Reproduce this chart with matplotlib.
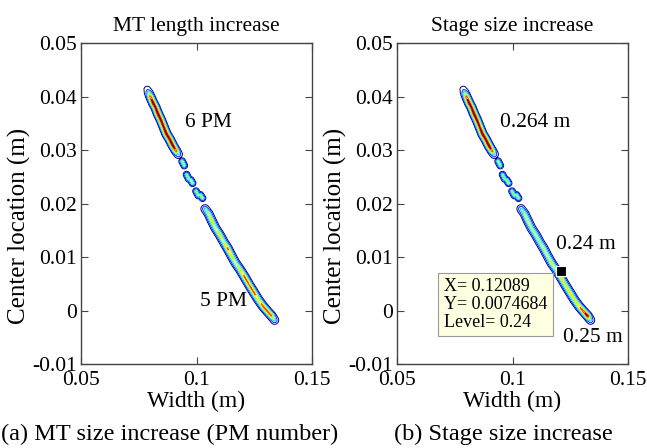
import matplotlib.pyplot as plt
import numpy as np

plt.rcParams['font.family'] = ['Liberation Serif', 'DejaVu Serif']

# centre line of the detected region, split into pieces (x, y, peak value)
top_x = [0.0787, 0.0800, 0.0812, 0.0822, 0.0833, 0.0846, 0.0858, 0.0870, 0.0884, 0.0898, 0.0912, 0.0921]
top_y = [0.0413, 0.0400, 0.0388, 0.0380, 0.0368, 0.0356, 0.0343, 0.0330, 0.0320, 0.0308, 0.0298, 0.0292]
top_pk_a = [0.215, 0.262, 0.272, 0.268, 0.272, 0.270, 0.268, 0.272, 0.270, 0.272, 0.262, 0.230]
top_pk_b = [0.215, 0.262, 0.272, 0.268, 0.272, 0.270, 0.266, 0.272, 0.270, 0.272, 0.262, 0.230]

# short broken pieces between the two long parts (start x, start y, end x, end y)
dash_x0 = [0.0938, 0.0957, 0.0975, 0.0998, 0.1017]
dash_y0 = [0.0279, 0.0254, 0.0244, 0.0223, 0.0216]
dash_x1 = [0.0947, 0.0966, 0.0983, 0.1008, 0.1026]
dash_y1 = [0.0271, 0.0246, 0.0238, 0.0215, 0.0210]
dash_pk = [0.242, 0.240, 0.244, 0.240, 0.242]

low_x = [0.1037, 0.1052, 0.1066, 0.1082, 0.1100, 0.1118, 0.1135, 0.1152, 0.1170, 0.1188, 0.1208, 0.1228, 0.1248, 0.1268, 0.1288, 0.1308, 0.1325, 0.1338]
low_y = [0.0190, 0.0181, 0.0168, 0.0154, 0.0142, 0.0128, 0.0116, 0.0102, 0.0088, 0.0077, 0.0063, 0.0048, 0.0034, 0.0020, 0.0008, -0.0002, -0.0010, -0.0018]
low_pk_a = [0.230, 0.244, 0.248, 0.244, 0.248, 0.244, 0.258, 0.248, 0.244, 0.248, 0.258, 0.256, 0.258, 0.252, 0.258, 0.260, 0.258, 0.230]
low_pk_b = [0.230, 0.242, 0.246, 0.240, 0.244, 0.240, 0.246, 0.242, 0.248, 0.242, 0.250, 0.246, 0.250, 0.246, 0.254, 0.264, 0.270, 0.230]

levels = [0.205, 0.215, 0.225, 0.235, 0.245, 0.255, 0.265]

tip_x, tip_y, tip_level = 0.12089, 0.0074684, 0.24

# px per data unit, used so the ridge width is the same in both directions
SX, SY = 2310.0, 5350.0
BASE = 0.2
R = 5.0


def ridge_field(pieces, gx, gy, r=R):
    # cone-shaped ridge along each polyline, peak value falling to BASE at distance r (px)
    u = gx * SX
    v = gy * SY
    f = np.full(gx.shape, BASE)
    for xs, ys, pk in pieces:
        xs = np.asarray(xs) * SX
        ys = np.asarray(ys) * SY
        pk = np.asarray(pk)
        for i in range(len(xs) - 1):
            ax_, ay_ = xs[i], ys[i]
            bx, by = xs[i + 1], ys[i + 1]
            dx, dy = bx - ax_, by - ay_
            t = ((u - ax_) * dx + (v - ay_) * dy) / (dx * dx + dy * dy)
            t = np.clip(t, 0, 1)
            d = np.hypot(u - (ax_ + t * dx), v - (ay_ + t * dy))
            p = pk[i] + t * (pk[i + 1] - pk[i])
            f = np.maximum(f, p - (p - BASE) * d / r)
    return f


gx, gy = np.meshgrid(np.linspace(0.072, 0.142, 450), np.linspace(-0.006, 0.046, 700))

dashes = [([a, c], [b, d], [p, p]) for a, b, c, d, p in zip(dash_x0, dash_y0, dash_x1, dash_y1, dash_pk)]
dash_field = ridge_field(dashes, gx, gy, r=3.8)
field_a = np.maximum(ridge_field([(top_x, top_y, top_pk_a), (low_x, low_y, low_pk_a)], gx, gy), dash_field)
field_b = np.maximum(ridge_field([(top_x, top_y, top_pk_b), (low_x, low_y, low_pk_b)], gx, gy), dash_field)

fig = plt.figure(figsize=(6.47, 4.48), dpi=100)
ax1 = fig.add_axes([81 / 647, 1 - 364 / 448, 231 / 647, 321 / 448])
ax2 = fig.add_axes([397 / 647, 1 - 364 / 448, 231 / 647, 321 / 448])

for ax, fld, title in [(ax1, field_a, 'MT length increase'), (ax2, field_b, 'Stage size increase')]:
    ax.contour(gx, gy, fld, levels=levels, cmap='jet', vmin=levels[0], vmax=levels[-1], linewidths=0.7)
    ax.set_xlim(0.05, 0.15)
    ax.set_ylim(-0.01, 0.05)
    ax.set_xticks([0.05, 0.1, 0.15])
    ax.set_xticklabels(['0.05', '0.1', '0.15'])
    ax.set_yticks([-0.01, 0, 0.01, 0.02, 0.03, 0.04, 0.05])
    ax.set_yticklabels(['-0.01', '0', '0.01', '0.02', '0.03', '0.04', '0.05'])
    ax.tick_params(direction='in', top=True, right=True, length=5, width=0.8,
                   color='#444444', labelsize=15.5, pad=3)
    ax.tick_params(axis='x', pad=5)
    for s in ax.spines.values():
        s.set_color('#444444')
        s.set_linewidth(1.0)
    ax.set_title(title, fontsize=15.5, pad=9)
    ax.set_xlabel('Width (m)', fontsize=17, labelpad=1)
    ax.set_ylabel('Center location (m)', fontsize=18)
    ax.yaxis.set_label_coords(-0.215, 0.43)

ax1.text(0.0950, 0.0352, '6 PM', fontsize=15.5, va='center')
ax1.text(0.1015, 0.0016, '5 PM', fontsize=15.5, va='center')

ax2.text(0.0946, 0.0352, '0.264 m', fontsize=15.5, va='center')
ax2.text(0.1188, 0.0124, '0.24 m', fontsize=15.5, va='center')
ax2.text(0.1219, -0.0050, '0.25 m', fontsize=15.5, va='center')

ax2.plot([tip_x], [tip_y], marker='s', color='black', markersize=6.5, markeredgecolor='white',
         markeredgewidth=0.8, zorder=5)
ax2.text(0.0703, 0.0060, 'X= %.5f\nY= %.7f\nLevel= %.2f' % (tip_x, tip_y, tip_level),
         fontsize=13, va='top', ha='left', linespacing=1.05,
         bbox=dict(boxstyle='square,pad=0.3', facecolor='#ffffe1', edgecolor='#999999', linewidth=0.8))

fig.text(170 / 647, 1 - 434 / 448, '(a) MT size increase (PM number)', fontsize=17.5, ha='center', va='center')
fig.text(503 / 647, 1 - 434 / 448, '(b) Stage size increase', fontsize=17.5, ha='center', va='center')

fig.savefig('out.png', dpi=100)
